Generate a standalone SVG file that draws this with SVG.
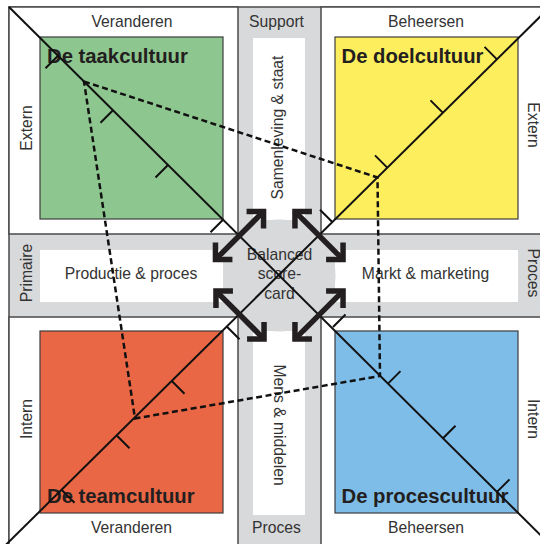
<svg xmlns="http://www.w3.org/2000/svg" width="540" height="544" viewBox="0 0 540 544">
  <style>
    .lbl { font-family: "Liberation Sans", Arial, sans-serif; font-size: 15.7px; fill: #333333; }
    .ttl { font-family: "Liberation Sans", Arial, sans-serif; font-size: 20.3px; font-weight: bold; fill: #231f20; }
    .mid { text-anchor: middle; }
    .frame { fill: #ffffff; stroke: #4a4a4a; stroke-width: 1.5; }
    .box { stroke: #3d3d3d; stroke-width: 1.2; }
    .strip { fill: #ffffff; }
    .axis { stroke: #111111; stroke-width: 2; fill: none; }
    .tick { stroke: #111111; stroke-width: 2; fill: none; }
    .dash { stroke: #111111; stroke-width: 2.5; stroke-dasharray: 6 3.5; fill: none; }
    .arw { stroke: #231f20; stroke-width: 5.5; fill: none; stroke-linejoin: miter; stroke-miterlimit: 10; }
  </style>
  <defs>
    <!-- double-headed arrow, horizontal, centred on the origin -->
    <g id="dblArrow">
      <path class="arw" d="M-31,0 H31"/>
      <path class="arw" d="M-22,-12 L-34,0 L-22,12 M22,-12 L34,0 L22,12"/>
    </g>
  </defs>

  <!-- grey bands and white quadrants -->
  <g id="background">
    <rect x="9" y="7" width="540" height="545" fill="#d8d9db" stroke="#4a4a4a" stroke-width="1.5"/>
    <rect class="frame" x="9" y="7" width="229" height="227"/>
    <rect class="frame" x="321" y="7" width="230" height="227"/>
    <rect class="frame" x="9" y="317" width="229" height="235"/>
    <rect class="frame" x="321" y="317" width="230" height="235"/>
  </g>

  <!-- white label strips inside the bands -->
  <g id="strip-support">
    <rect class="strip" x="253" y="38" width="52" height="182"/>
    <text class="lbl mid" transform="translate(282.5,127.5) rotate(-90)">Samenleving &amp; staat</text>
  </g>
  <g id="strip-means">
    <rect class="strip" x="253" y="331" width="52" height="184"/>
    <text class="lbl mid" transform="translate(273.5,425) rotate(90)">Mens &amp; middelen</text>
  </g>
  <g id="strip-production">
    <rect class="strip" x="40" y="250" width="183" height="52"/>
    <text class="lbl mid" x="131" y="279">Productie &amp; proces</text>
  </g>
  <g id="strip-market">
    <rect class="strip" x="335" y="250" width="183" height="52"/>
    <text class="lbl mid" x="425.5" y="279">Markt &amp; marketing</text>
  </g>

  <!-- culture quadrants -->
  <g id="taakcultuur">
    <rect class="box" x="40" y="37" width="183" height="182" fill="#8dc68e"/>
    <text class="ttl" x="47" y="63.3">De taakcultuur</text>
  </g>
  <g id="doelcultuur">
    <rect class="box" x="335" y="37" width="183" height="182" fill="#fdee5d"/>
    <text class="ttl" x="341.5" y="63.3">De doelcultuur</text>
  </g>
  <g id="teamcultuur">
    <rect class="box" x="40" y="331" width="183" height="182" fill="#ea6745"/>
    <text class="ttl" x="47" y="502.7">De teamcultuur</text>
  </g>
  <g id="procescultuur">
    <rect class="box" x="335" y="331" width="183" height="182" fill="#7ebde8"/>
    <text class="ttl" x="341.5" y="502.7">De procescultuur</text>
  </g>

  <!-- centre -->
  <g id="balanced-scorecard">
    <circle cx="279.5" cy="275.5" r="56" fill="#d8d9db"/>
    <text class="lbl mid" x="279.5" y="259.5">Balanced</text>
    <text class="lbl mid" x="279.5" y="279">score-</text>
    <text class="lbl mid" x="279.5" y="298.5">card</text>
  </g>

  <!-- axis labels -->
  <g id="axis-labels">
    <text class="lbl mid" x="132" y="27">Veranderen</text>
    <text class="lbl mid" x="426" y="27">Beheersen</text>
    <text class="lbl mid" x="276.5" y="27">Support</text>
    <text class="lbl mid" x="131.5" y="533">Veranderen</text>
    <text class="lbl mid" x="426" y="533">Beheersen</text>
    <text class="lbl mid" x="276.5" y="533">Proces</text>
    <text class="lbl mid" transform="translate(31.5,128) rotate(-90)">Extern</text>
    <text class="lbl mid" transform="translate(31.5,419) rotate(-90)">Intern</text>
    <text class="lbl mid" transform="translate(31.5,273) rotate(-90)">Primaire</text>
    <text class="lbl mid" transform="translate(527.5,125) rotate(90)">Extern</text>
    <text class="lbl mid" transform="translate(527.5,419) rotate(90)">Intern</text>
    <text class="lbl mid" transform="translate(527.5,273) rotate(90)">Proces</text>
  </g>

  <!-- diagonals with scale ticks -->
  <g id="axes">
    <line class="axis" x1="9" y1="7" x2="545" y2="539.6"/>
    <line class="axis" x1="5" y1="545.7" x2="545" y2="11.8"/>
    <path class="tick" d="M223,219.7 l-12.5,12.5 M168,165 l-12.5,12.5 M113,110.3 l-12.5,12.5 M58,55.7 l-12.5,12.5"/>
    <path class="tick" d="M332.5,222.3 l-12.5,-12.5 M387.5,167.9 l-12.5,-12.5 M443,112.9 l-12.5,-12.5 M497,59.4 l-12.5,-12.5"/>
    <path class="tick" d="M227,326.8 l12.5,12.5 M172,381.3 l12.5,12.5 M117,435.7 l12.5,12.5 M62,490.2 l12.5,12.5"/>
    <path class="tick" d="M333,327 l12.5,-12.5 M388,383.6 l12.5,-12.5 M443,438.3 l12.5,-12.5 M497,491.9 l12.5,-12.5"/>
  </g>

  <!-- connectors -->
  <g id="connectors">
    <use href="#dblArrow" transform="translate(239.5,235.5) rotate(-45)"/>
    <use href="#dblArrow" transform="translate(319,235.5) rotate(45)"/>
    <use href="#dblArrow" transform="translate(240,315) rotate(45)"/>
    <use href="#dblArrow" transform="translate(319,315) rotate(-45)"/>
    <polygon class="dash" points="84,81.5 377.5,177.5 380,376 135,418.5"/>
  </g>
</svg>
